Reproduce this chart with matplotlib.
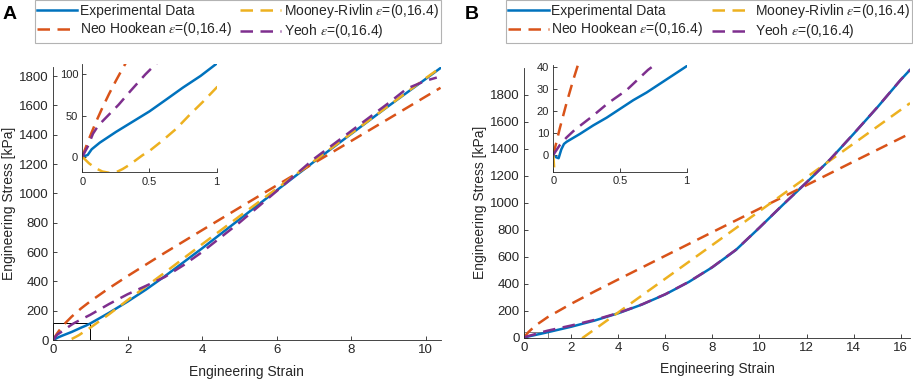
import matplotlib
matplotlib.use("Agg")
import matplotlib.pyplot as plt
from matplotlib.patches import Rectangle

plt.rcParams["font.family"] = ["Liberation Sans", "DejaVu Sans"]
plt.rcParams["mathtext.fontset"] = "stix"

# ===== colours (MATLAB default order) =====
C_EXP, C_NEO, C_MR, C_YEOH = "#0072BD", "#D95319", "#EDB120", "#7E2F8E"
TXT = "#262626"

LABELS = ["Experimental Data",
          r"Neo Hookean $\epsilon$=(0,16.4)",
          r"Mooney-Rivlin $\epsilon$=(0,16.4)",
          r"Yeoh $\epsilon$=(0,16.4)"]

# ===== panel A data (strain, stress kPa) =====
a_exp_x = [0, 0.04, 0.07, 0.13, 0.25, 0.38, 0.5, 0.63, 0.75, 0.88, 1, 1.5, 2, 2.5,
           3, 3.5, 4, 5, 6, 7, 8, 9, 10, 10.4]
a_exp_y = [0, 2, 9, 17, 30, 43, 55, 70, 84, 98, 113, 185, 262, 345,
           435, 530, 625, 822, 1020, 1215, 1405, 1595, 1780, 1855]

a_neo_x = [0, 0.05, 0.1, 0.15, 0.2, 0.25, 0.3, 0.35, 0.5, 0.75, 1, 1.5, 2, 3, 4,
           5, 6, 7, 8, 9, 10, 10.4]
a_neo_y = [0, 21.6, 41.4, 59.5, 76.4, 92.1, 107, 121, 159.5, 215, 264, 353, 436, 595, 749,
           902, 1054, 1206, 1357, 1508, 1660, 1720]

a_mr_x = [0, 0.05, 0.1, 0.15, 0.2, 0.25, 0.3, 0.35, 0.4, 0.45, 0.5, 0.6, 0.7, 0.8, 0.9,
          1, 1.5, 2, 3, 4, 5, 6, 7, 8, 9, 10, 10.4]
a_mr_y = [0, -8, -14, -18, -19.5, -19, -15, -10, -4, 2, 7, 20, 34, 51, 67,
          84, 175, 272, 460, 653, 843, 1032, 1220, 1408, 1596, 1785, 1858]

a_yeoh_x = [0, 0.04, 0.08, 0.12, 0.18, 0.27, 0.36, 0.47, 0.55, 0.75, 1, 1.5, 2, 2.5,
            3, 3.5, 4, 5, 6, 7, 8, 9, 9.5, 10, 10.3]
a_yeoh_y = [0, 12, 28, 38, 48, 63, 80, 100, 113, 140, 172, 245, 312, 370,
            430, 510, 600, 800, 1015, 1235, 1425, 1615, 1715, 1768, 1790]

# ===== panel B data =====
b_exp_x = [0, 0.02, 0.04, 0.06, 0.08, 0.1, 0.15, 0.2, 0.3, 0.4, 0.5, 0.6, 0.7, 0.8, 0.9,
           1, 2, 3, 4, 5, 6, 7, 8, 9, 10, 11, 12, 13, 14, 15, 16, 16.4]
b_exp_y = [0, -1, -1.5, 2.5, 5, 6, 7.8, 9.6, 13.5, 17, 21, 25, 28.5, 32.5, 36.5,
           40.5, 81, 127, 181, 245, 321, 413, 522, 650, 815, 985, 1150, 1320, 1510, 1705, 1910, 1985]

b_neo_x = [0, 0.05, 0.1, 0.15, 0.2, 0.5, 1, 2, 3, 4, 6, 8, 10, 12, 14, 16.4]
b_neo_y = [0, 12.4, 23.8, 34.3, 44, 91.8, 152, 251, 343, 431.5, 607, 782, 956, 1130, 1305, 1513]

b_mr_x = [0, 0.01, 0.03, 0.1, 0.25, 0.5, 1, 1.5, 2, 2.5, 3, 4, 5, 7, 9, 11, 13, 15, 16.4]
b_mr_y = [0, -9, -26, -75, -137, -176, -164, -117, -60, 0, 62, 187, 312, 562, 812, 1063,
          1313, 1563, 1738]

b_yeoh_x = [0, 0.05, 0.1, 0.16, 0.29, 0.41, 0.55, 0.71, 1, 2, 3, 4, 5, 6, 7, 8, 9, 10,
            11, 12, 13, 14, 15, 16, 16.4]
b_yeoh_y = [0, 4.6, 8, 11.4, 17.5, 23.6, 29.6, 38.8, 52, 90, 132, 183, 246, 322, 414, 523,
            651, 816, 986, 1151, 1321, 1511, 1706, 1911, 1985]

DASH = (0, (5, 3))


def draw_curves(ax, exp, neo, mr, yeoh, lw=1.8):
    h = []
    h += ax.plot(*exp, color=C_EXP, lw=lw)
    h += ax.plot(*neo, color=C_NEO, lw=lw, linestyle=DASH)
    h += ax.plot(*mr, color=C_MR, lw=lw, linestyle=DASH)
    h += ax.plot(*yeoh, color=C_YEOH, lw=lw, linestyle=DASH)
    return h


def style(ax, size):
    for s in ("top", "right"):
        ax.spines[s].set_visible(False)
    for s in ("left", "bottom"):
        ax.spines[s].set_color(TXT)
        ax.spines[s].set_linewidth(0.6)
    ax.tick_params(direction="in", length=3, width=0.6, colors=TXT,
                   labelsize=size, pad=3)


fig = plt.figure(figsize=(9.13, 3.82), dpi=100)

panels = [
    dict(pos=[0.0581, 0.1099, 0.4244, 0.714], ins=[0.0901, 0.5488, 0.1472, 0.2847],
         data=[(a_exp_x, a_exp_y), (a_neo_x, a_neo_y), (a_mr_x, a_mr_y), (a_yeoh_x, a_yeoh_y)],
         xlim=(0, 10.4), ylim=(0, 1860), xt=range(0, 11, 2), yt=range(0, 1801, 200),
         iylim=(-19, 113), iyt=[0, 50, 100], tag="A", tagx=0.003, legx=0.2605,
         rect_c="black"),
    dict(pos=[0.574, 0.116, 0.4228, 0.7066], ins=[0.606, 0.5508, 0.1461, 0.2788],
         data=[(b_exp_x, b_exp_y), (b_neo_x, b_neo_y), (b_mr_x, b_mr_y), (b_yeoh_x, b_yeoh_y)],
         xlim=(0, 16.4), ylim=(0, 2000), xt=range(0, 17, 2), yt=range(0, 1801, 200),
         iylim=(-7.6, 41), iyt=[0, 10, 20, 30, 40], tag="B", tagx=0.509, legx=0.7765,
         rect_c="gray"),
]

for p in panels:
    ax = fig.add_axes(p["pos"])
    handles = draw_curves(ax, *p["data"])
    ax.set_xlim(*p["xlim"])
    ax.set_ylim(*p["ylim"])
    ax.set_xticks(list(p["xt"]))
    ax.set_yticks(list(p["yt"]))
    style(ax, 9.5)
    ax.set_xlabel("Engineering Strain", fontsize=10, color=TXT, labelpad=6)
    ax.set_ylabel("Engineering Stress [kPa]", fontsize=10, color=TXT, va="center")
    ax.yaxis.set_label_coords(-0.114, 0.5)
    # zoom box for the inset region
    ylo, yhi = p["iylim"]
    ax.add_patch(Rectangle((0, ylo), 1, yhi - ylo, fill=False, ec=p["rect_c"], lw=0.7))

    leg = ax.legend(handles, LABELS, ncol=2, loc="center",
                    bbox_to_anchor=(p["legx"], 0.944), bbox_transform=fig.transFigure,
                    fontsize=10, frameon=True, fancybox=False, handlelength=2.9,
                    columnspacing=0.6, handletextpad=0.2, labelspacing=0.15,
                    borderpad=0.15, borderaxespad=0)
    leg.get_frame().set_edgecolor("#a0a0a0")
    leg.get_frame().set_linewidth(0.8)
    for t in leg.get_texts():
        t.set_color(TXT)

    fig.text(p["tagx"], 0.962, p["tag"], fontsize=14, fontweight="bold",
             ha="left", va="center")

    ins = fig.add_axes(p["ins"])
    draw_curves(ins, *p["data"])
    ins.set_xlim(0, 1)
    ins.set_ylim(ylo, yhi)
    ins.set_xticks([0, 0.5, 1])
    ins.set_xticklabels(["0", "0.5", "1"])
    ins.set_yticks(p["iyt"])
    style(ins, 8)

fig.savefig("out.png", dpi=100)
